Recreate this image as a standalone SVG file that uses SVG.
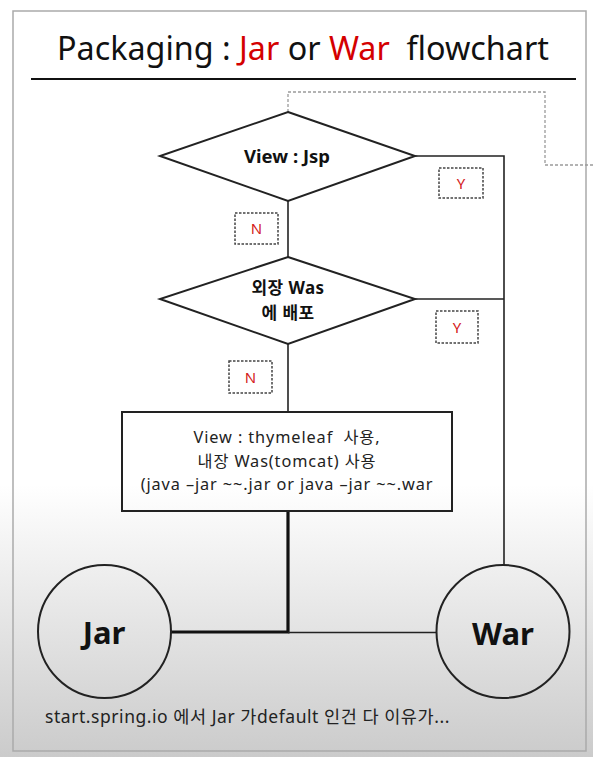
<svg xmlns="http://www.w3.org/2000/svg" width="593" height="757" viewBox="0 0 593 757">
<defs>
<linearGradient id="bg" x1="0" y1="0" x2="0" y2="1">
<stop offset="0" stop-color="#ffffff"/>
<stop offset="0.64" stop-color="#ffffff"/>
<stop offset="1" stop-color="#cbcbcb"/>
</linearGradient>
<style>
text{font-family:"Noto Sans","Noto Sans CJK KR",sans-serif;fill:#111;}
.title{font-size:32.3px;white-space:pre;}
.red{fill:#d40000;}
.shape{fill:none;stroke:#222;stroke-width:2;}
.lbl{fill:none;stroke:#444;stroke-width:1.5;stroke-dasharray:2.5 1.5;}
.yn{font-size:15px;fill:#d42020;text-anchor:middle;}
.dec{font-size:18.5px;font-weight:bold;text-anchor:middle;}
.dec2{font-size:17px;font-weight:bold;text-anchor:middle;letter-spacing:0.4px;}
.box{font-size:16.3px;text-anchor:middle;fill:#222;white-space:pre;letter-spacing:0.9px;}
.big{font-size:31px;font-weight:bold;text-anchor:middle;}
.thin{fill:none;stroke:#222;stroke-width:1.6;}
.thick{fill:none;stroke:#111;stroke-width:3.2;}
</style>
</defs>
<rect x="0" y="0" width="593" height="757" fill="url(#bg)"/>
<rect x="13" y="11" width="573" height="740" fill="none" stroke="#aaa" stroke-width="1.5"/>
<g id="title">
<text class="title" x="57" y="60">Packaging : <tspan class="red">Jar</tspan> or <tspan class="red">War</tspan>  flowchart</text>
<line x1="31" y1="79" x2="576" y2="79" stroke="#111" stroke-width="2.2"/>
</g>
<g id="connectors">
<path d="M288 112 V92 H545 V165 H593" fill="none" stroke="#9a9a9a" stroke-width="1.3" stroke-dasharray="3 2"/>
<path class="thin" d="M415 156 H504 V565"/>
<path class="thin" d="M415 299 H504"/>
<path class="thin" d="M288 201 V257"/>
<path class="thin" d="M288 344 V412"/>
<path class="thick" d="M288 511 V632 H171"/>
<path class="thin" d="M288 632.5 H436"/>
</g>
<g id="label-y1">
<rect class="lbl" x="439" y="168" width="44" height="30"/>
<text class="yn" x="461" y="189">Y</text>
</g>
<g id="label-n1">
<rect class="lbl" x="235" y="213" width="43" height="31"/>
<text class="yn" x="256.5" y="234">N</text>
</g>
<g id="label-y2">
<rect class="lbl" x="436" y="311" width="42" height="32"/>
<text class="yn" x="457" y="333">Y</text>
</g>
<g id="label-n2">
<rect class="lbl" x="229" y="361" width="43" height="32"/>
<text class="yn" x="250.5" y="383">N</text>
</g>
<g id="decision-jsp">
<polygon class="shape" points="288,112 415,156 288,201 160,156"/>
<text class="dec" x="287" y="163">View : Jsp</text>
</g>
<g id="decision-was">
<polygon class="shape" points="288,257 415,299 288,344 160,299"/>
<text class="dec2"><tspan x="288" y="294">외장 Was</tspan><tspan x="288" y="319">에 배포</tspan></text>
</g>
<g id="process-embedded">
<rect class="shape" x="122" y="412" width="330" height="99" stroke="#111"/>
<text class="box"><tspan x="287" y="443">View : thymeleaf  사용,</tspan><tspan x="287" y="467">내장 Was(tomcat) 사용</tspan><tspan x="287" y="490">(java –jar ~~.jar or java –jar ~~.war</tspan></text>
</g>
<g id="jar">
<circle class="shape" cx="104.5" cy="631.5" r="66.5" stroke="#111"/>
<text class="big" x="104" y="644">Jar</text>
</g>
<g id="war">
<circle class="shape" cx="503" cy="631.5" r="66.5" stroke="#111"/>
<text class="big" x="503" y="645">War</text>
</g>
<g id="note">
<text x="45" y="723" style="font-size:17.5px;fill:#222;letter-spacing:0.55px;">start.spring.io 에서 Jar 가default 인건 다 이유가...</text>
</g>
</svg>
